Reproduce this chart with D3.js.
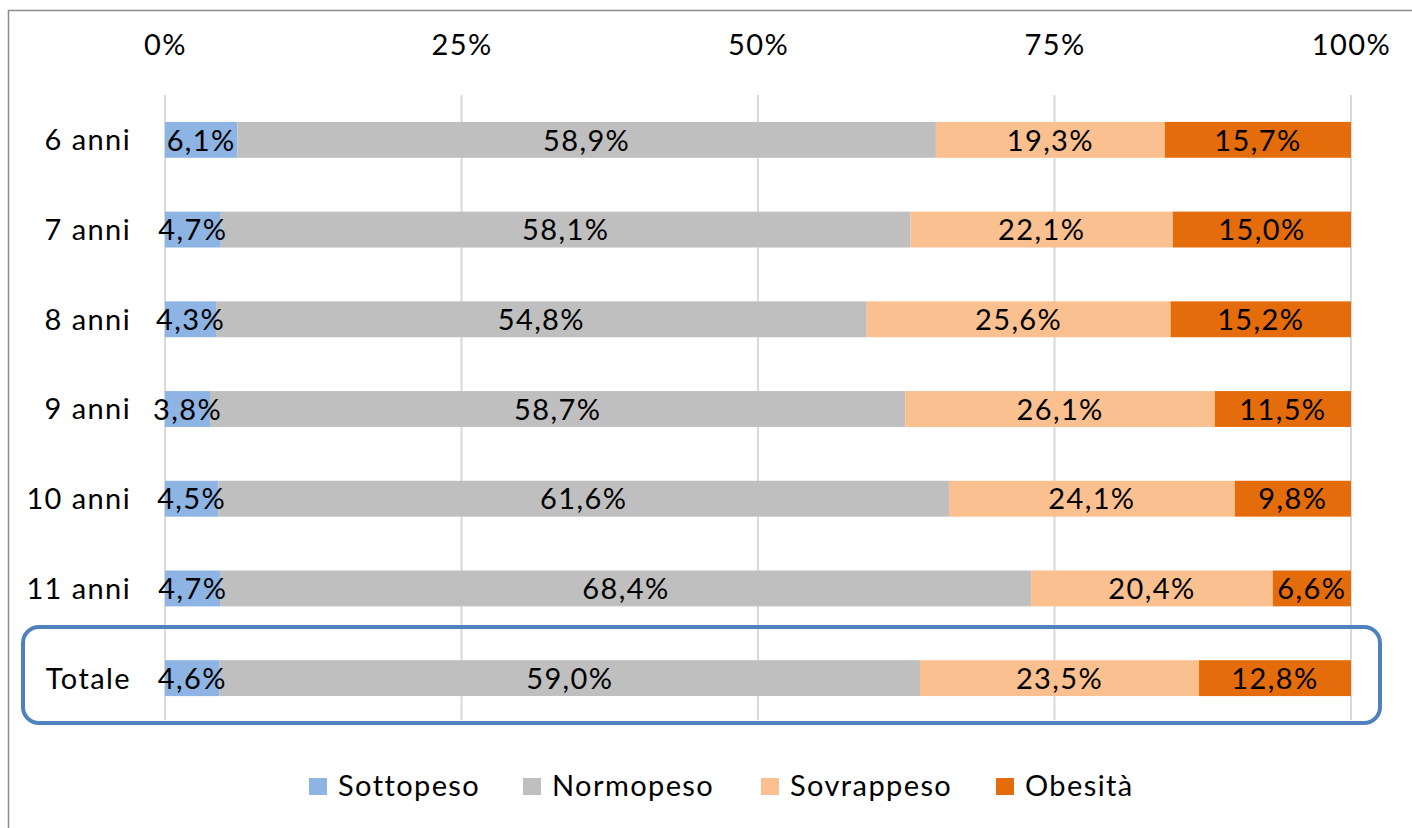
<!DOCTYPE html>
<html>
<head>
<meta charset="utf-8">
<script src="https://cdn.jsdelivr.net/npm/d3@7"></script>
<style>
  body { margin: 0; background: #fff; }
  text { font-family: Lato, "Open Sans", sans-serif; fill: #000; letter-spacing: 1.4px; }
</style>
</head>
<body>
<svg id="chart" width="1412" height="828"></svg>
<script>
const categories = ['6 anni', '7 anni', '8 anni', '9 anni', '10 anni', '11 anni', 'Totale'];
const seriesNames = ['Sottopeso', 'Normopeso', 'Sovrappeso', 'Obesità'];
const sottopeso  = [6.1, 4.7, 4.3, 3.8, 4.5, 4.7, 4.6];
const normopeso  = [58.9, 58.1, 54.8, 58.7, 61.6, 68.4, 59.0];
const sovrappeso = [19.3, 22.1, 25.6, 26.1, 24.1, 20.4, 23.5];
const obesita    = [15.7, 15.0, 15.2, 11.5, 9.8, 6.6, 12.8];
const tickValues = [0, 0.25, 0.5, 0.75, 1];

const COLORS = ['#8db4e2', '#bfbfbf', '#fac090', '#e46c0a'];
const CHART = {left: 165, right: 1351, top: 95, bottom: 723};
const FONT_SIZE = '29px';

const rows = categories.map((c, i) => ({
    cat: c,
    Sottopeso: sottopeso[i],
    Normopeso: normopeso[i],
    Sovrappeso: sovrappeso[i],
    'Obesità': obesita[i]
}));

const stacked = d3.stack()
    .keys(seriesNames)
    .offset(d3.stackOffsetExpand)(rows);

const x = d3.scaleLinear().domain([0, 1]).range([CHART.left, CHART.right]);
const y = d3.scaleBand().domain(categories).range([CHART.top, CHART.bottom]).paddingInner(0.6).paddingOuter(0.3);

const svg = d3.select('#chart');

// outer frame
svg.append('rect')
    .attr('x', 8.5).attr('y', 10.5)
    .attr('width', 1420).attr('height', 840)
    .attr('fill', 'none')
    .attr('stroke', '#8c8c8c')
    .attr('stroke-width', 1.5);

// gridlines
svg.append('g')
    .selectAll('line')
    .data(tickValues)
    .join('line')
    .attr('x1', d => x(d)).attr('x2', d => x(d))
    .attr('y1', CHART.top).attr('y2', 720)
    .attr('stroke', '#d9d9d9')
    .attr('stroke-width', 2);

// top axis
const axis = svg.append('g')
    .attr('transform', 'translate(0, 48)')
    .call(d3.axisTop(x).tickValues(tickValues).tickFormat(d => Math.round(d * 100) + '%').tickSize(0));
axis.select('.domain').remove();
axis.selectAll('text')
    .attr('dy', '0.36em')
    .style('font-size', FONT_SIZE)
    .style('font-family', 'Lato, "Open Sans", sans-serif')
    .attr('fill', '#000');

// category labels
svg.append('g')
    .selectAll('text')
    .data(categories)
    .join('text')
    .attr('x', 131)
    .attr('y', d => y(d) + y.bandwidth() / 2)
    .attr('dy', '0.36em')
    .attr('text-anchor', 'end')
    .style('font-size', FONT_SIZE)
    .text(d => d);

// bars
const layers = svg.append('g')
    .selectAll('g')
    .data(stacked)
    .join('g')
    .attr('fill', (d, i) => COLORS[i]);

layers.selectAll('rect')
    .data(d => d)
    .join('rect')
    .attr('x', d => x(d[0]))
    .attr('y', d => y(d.data.cat))
    .attr('width', d => x(d[1]) - x(d[0]))
    .attr('height', y.bandwidth());

// labels
svg.append('g')
    .selectAll('g')
    .data(stacked)
    .join('g')
    .selectAll('text')
    .data(d => d.map(p => ({p: p, key: d.key})))
    .join('text')
    .attr('x', d => (x(d.p[0]) + x(d.p[1])) / 2)
    .attr('y', d => y(d.p.data.cat) + y.bandwidth() / 2)
    .attr('dy', '0.37em')
    .attr('text-anchor', 'middle')
    .style('font-size', FONT_SIZE)
    .text(d => d.p.data[d.key].toFixed(1).replace('.', ',') + '%');

// highlight box round Totale
svg.append('rect')
    .attr('x', 23).attr('y', 627)
    .attr('width', 1357).attr('height', 96)
    .attr('rx', 16)
    .attr('fill', 'none')
    .attr('stroke', '#4f81bd')
    .attr('stroke-width', 4);

// legend
const legendX = [309, 523, 761, 996];
const legend = svg.append('g')
    .selectAll('g')
    .data(seriesNames)
    .join('g')
    .attr('transform', (d, i) => `translate(${legendX[i]}, 778)`);

legend.append('rect')
    .attr('width', 18).attr('height', 17)
    .attr('fill', (d, i) => COLORS[i]);

legend.append('text')
    .attr('x', 29).attr('y', 8)
    .attr('dy', '0.36em')
    .style('font-size', FONT_SIZE)
    .text(d => d);
</script>
</body>
</html>
